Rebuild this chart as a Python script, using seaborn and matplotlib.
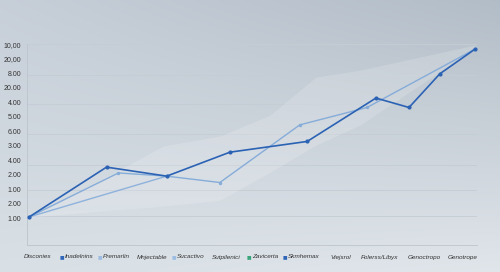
import numpy as np
import pandas as pd
import matplotlib.pyplot as plt
import seaborn as sns

# Data
y_tick_labels = ['1.00', '2.00', '1.00', '2.00', '4.00', '3.00', '6.00',
                 '5.00', '4.00', '20.00', '8.00', '20,00', '10,00']

x_labels = ['Disconies', 'Inadelnins', 'Premarlin', 'Mnjectable', 'Sucactivo',
            'Sutpilenici', 'Zavicerta', 'Skmhemax', 'Viejsrol', 'Folerss/Libyx',
            'Genoctropo', 'Genotrope']
x_label_marks = [None, '#2f66b8', '#9dbde3', None, '#9dbde3',
                 None, '#3aa57a', '#2f66b8', None, None, None, None]

dark_x = [0, 2.08, 3.70, 5.40, 7.48, 9.33, 10.22, 11.05, 12]
dark_y = [0.09, 3.52, 2.90, 4.55, 5.29, 8.28, 7.63, 9.95, 11.66]

mid_x = [0, 2.40, 3.70, 5.13, 7.28, 9.09, 12]
mid_y = [0.09, 3.12, 2.90, 2.46, 6.43, 7.63, 11.66]

light_x = [0, 3.70]
light_y = [0.09, 2.90]

band_x = [0, 2.17, 3.6, 5.13, 6.48, 7.71, 8.9, 12]
band_hi = [0.07, 2.97, 4.97, 5.66, 7.1, 9.72, 10.2, 11.93]
band_lo = [0.07, 0.55, 0.83, 1.24, 3.17, 5.03, 6.41, 11.72]

grid_y = [0.14, 1.95, 3.70, 5.77, 7.84, 9.86, 12]

sns.set_style("white")
plt.rcParams['font.family'] = ['Liberation Sans', 'DejaVu Sans']

fig = plt.figure(figsize=(5, 2.72), dpi=100)

# gradient background
bg = fig.add_axes([0, 0, 1, 1], zorder=-10)
corners = np.array([[[0.78, 0.81, 0.85], [0.70, 0.74, 0.78]],
                    [[0.85, 0.88, 0.90], [0.88, 0.90, 0.92]]])
u = np.linspace(0, 1, 200)
v = np.linspace(0, 1, 120)[:, None, None]
top = corners[0, 0] * (1 - u[:, None]) + corners[0, 1] * u[:, None]
bot = corners[1, 0] * (1 - u[:, None]) + corners[1, 1] * u[:, None]
img = top[None] * (1 - v) + bot[None] * v
bg.imshow(img, aspect='auto', extent=[0, 1, 0, 1])
bg.axis('off')

ax = fig.add_axes([0.054, 0.099, 0.90, 0.739])
ax.set_facecolor('none')

ax.fill_between(band_x, band_lo, band_hi, color='white', alpha=0.16, lw=0, zorder=1)

for gy in grid_y:
    ax.axhline(gy, color='#c4ccd4', lw=0.6, zorder=0)

df_dark = pd.DataFrame({'x': dark_x, 'y': dark_y})
df_mid = pd.DataFrame({'x': mid_x, 'y': mid_y})
df_light = pd.DataFrame({'x': light_x, 'y': light_y})

sns.lineplot(data=df_light, x='x', y='y', ax=ax, color='#8fb2dc', lw=1.0,
             sort=False, zorder=2)
sns.lineplot(data=df_mid, x='x', y='y', ax=ax, color='#86acd9', lw=1.0,
             marker='o', markersize=2.5, markeredgewidth=0, sort=False, zorder=3)
sns.lineplot(data=df_dark, x='x', y='y', ax=ax, color='#2b62b4', lw=1.2,
             marker='o', markersize=3, markeredgewidth=0, sort=False, zorder=4)

ax.set_xlim(-0.06, 12.05)
ax.set_ylim(-1.85, 12)
ax.set_xlabel('')
ax.set_ylabel('')

ax.set_yticks(range(len(y_tick_labels)))
ax.set_yticklabels(y_tick_labels, fontsize=5, color='#333333')
ax.set_xticks(np.arange(0.2, 12.1, 0.514))
ax.set_xticklabels([])
ax.tick_params(axis='y', length=2, width=0.5, color='#b6bec7', pad=2)
ax.tick_params(axis='x', length=3, width=0.5, color='#b6bec7', direction='out')

for side in ['top', 'right']:
    ax.spines[side].set_visible(False)
for side in ['left', 'bottom']:
    ax.spines[side].set_color('#bcc4cc')
    ax.spines[side].set_linewidth(0.6)

# bottom label row (acts as category labels / legend)
label_px = [24, 65, 103, 137, 177, 212, 252, 288, 330, 361, 408, 448]
ty = 1 - 257 / 272
for lab, col, px in zip(x_labels, x_label_marks, label_px):
    if col is not None:
        fig.text((px - 5) / 500, ty, '\u25a0', fontsize=3.5, color=col,
                 va='center', ha='left', family='DejaVu Sans')
    fig.text(px / 500, ty, lab, fontsize=4.6, color='#333333', style='italic',
             va='center', ha='left')

fig.savefig('out.png', dpi=100)
